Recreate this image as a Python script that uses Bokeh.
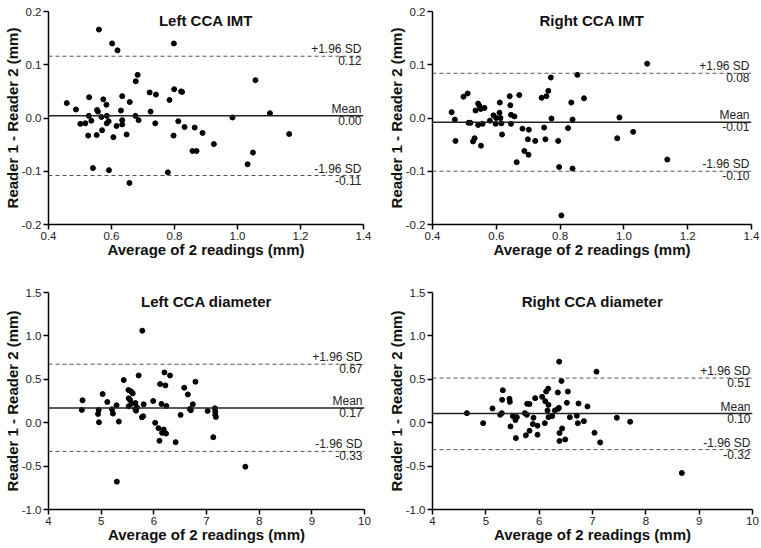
from bokeh.plotting import figure
from bokeh.layouts import row, column
from bokeh.models import Range1d, FixedTicker, NumeralTickFormatter, Span, Label
from bokeh.embed import file_html
from bokeh.resources import INLINE

FONT = "Liberation Sans"

# ---------------- data ----------------
titles = ["Left CCA IMT", "Right CCA IMT", "Left CCA diameter", "Right CCA diameter"]
x_label = "Average of 2 readings (mm)"
y_label = "Reader 1 - Reader 2 (mm)"

# Left CCA IMT
l_imt_avg = [0.560, 0.602, 0.619, 0.798, 0.683, 0.677, 1.057, 0.458, 0.487, 0.529,
             0.574, 0.584, 0.554, 0.557, 0.528, 0.568, 0.585, 0.501, 0.517, 0.536,
             0.591, 0.585, 0.526, 0.553, 0.570, 0.606, 0.616, 0.630, 0.634, 0.634,
             0.634, 0.648, 0.658, 0.676, 0.686, 0.721, 0.724, 0.741, 0.739, 0.784,
             0.799, 0.821, 0.824, 0.812, 0.797, 0.832, 0.864, 0.889, 0.857, 0.870,
             0.925, 0.984, 1.103, 1.164, 1.049, 1.032, 0.541, 0.592, 0.779, 0.657]
l_imt_diff = [0.166, 0.140, 0.127, 0.140, 0.081, 0.069, 0.071, 0.028, 0.016, 0.039,
              0.035, 0.025, 0.015, 0.012, 0.004, 0.002, 0.004, -0.011, -0.010, -0.005,
              -0.006, -0.010, -0.033, -0.032, -0.023, -0.036, -0.015, 0.014, 0.041, -0.004,
              -0.012, -0.031, 0.030, 0.004, -0.004, 0.048, 0.012, 0.044, -0.010, 0.034,
              0.054, 0.050, 0.049, -0.006, -0.033, -0.017, -0.018, -0.028, -0.062, -0.062,
              -0.049, 0.001, 0.009, -0.030, -0.065, -0.087, -0.094, -0.098, -0.102, -0.122]

# Right CCA IMT
r_imt_avg = [0.460, 0.470, 0.472, 0.497, 0.510, 0.513, 0.519, 0.527, 0.532, 0.535,
             0.543, 0.547, 0.551, 0.563, 0.543, 0.557, 0.552, 0.580, 0.591, 0.598,
             0.600, 0.610, 0.611, 0.613, 0.616, 0.618, 0.642, 0.644, 0.646, 0.646,
             0.657, 0.664, 0.672, 0.682, 0.688, 0.702, 0.699, 0.701, 0.722, 0.742,
             0.757, 0.763, 0.771, 0.773, 0.750, 0.754, 0.794, 0.797, 0.804, 0.825,
             0.835, 0.839, 0.839, 0.854, 0.875, 0.979, 0.986, 1.029, 1.073, 1.136]
r_imt_diff = [0.011, -0.003, -0.043, 0.040, 0.046, -0.009, -0.009, -0.044, -0.038, 0.014,
              0.027, 0.023, 0.017, 0.019, -0.013, -0.011, -0.052, -0.005, 0.005, -0.011,
              0.000, 0.010, 0.029, 0.000, -0.010, -0.031, 0.041, 0.024, 0.006, -0.011,
              0.003, -0.083, 0.043, -0.020, -0.062, -0.022, -0.040, -0.069, -0.043, 0.038,
              0.041, 0.051, 0.076, -0.001, -0.018, -0.040, -0.043, -0.092, -0.183, -0.019,
              0.029, -0.003, -0.095, 0.081, 0.037, -0.038, 0.001, -0.026, 0.102, -0.078]

# Left CCA diameter
l_dia_avg = [4.646, 4.633, 4.953, 4.940, 4.959, 5.028, 5.116, 5.204, 5.223, 5.292,
             5.336, 5.298, 5.429, 5.517, 5.524, 5.524, 5.549, 5.567, 5.580, 5.599,
             5.649, 5.649, 5.680, 5.712, 5.661, 5.781, 5.774, 5.799, 5.806, 5.988,
             6.025, 6.088, 6.107, 6.119, 6.144, 6.157, 6.188, 6.201, 6.219, 6.238,
             6.232, 6.307, 6.414, 6.508, 6.577, 6.646, 6.683, 6.702, 6.740, 6.790,
             7.022, 7.129, 7.160, 7.166, 7.166, 7.179, 7.737]
l_dia_diff = [0.258, 0.147, 0.147, 0.101, 0.005, 0.330, 0.239, 0.154, 0.105, 0.200,
              0.013, -0.679, 0.491, 0.376, 0.281, 0.189, 0.262, 0.361, 0.220, 0.338,
              0.227, 0.158, 0.177, 0.544, 0.139, 1.060, 0.063, 0.074, 0.212, 0.250,
              -0.002, -0.063, -0.209, 0.445, 0.216, -0.117, -0.079, 0.579, 0.430, 0.193,
              -0.125, 0.544, -0.224, 0.090, 0.403, 0.326, 0.158, 0.143, 0.212, 0.472,
              0.135, -0.167, 0.166, 0.128, 0.090, 0.067, -0.507]

# Right CCA diameter
r_dia_avg = [4.644, 4.950, 5.125, 5.269, 5.300, 5.319, 5.306, 5.444, 5.450, 5.463,
             5.506, 5.556, 5.581, 5.563, 5.731, 5.775, 5.819, 5.769, 5.750, 5.819,
             5.894, 5.881, 5.925, 5.969, 5.969, 6.056, 6.106, 6.113, 6.131, 6.169,
             6.156, 6.175, 6.175, 6.244, 6.294, 6.350, 6.356, 6.369, 6.375, 6.381,
             6.381, 6.419, 6.431, 6.488, 6.519, 6.538, 6.575, 6.706, 6.725, 6.738,
             6.838, 6.906, 7.038, 7.075, 7.144, 7.456, 7.706, 8.675]
r_dia_diff = [0.110, -0.005, 0.164, 0.091, 0.110, 0.374, 0.264, 0.275, 0.240, -0.043,
              0.076, 0.030, 0.064, -0.177, 0.110, 0.218, 0.214, 0.091, -0.146, -0.093,
              0.057, -0.016, 0.283, -0.139, -0.035, 0.298, -0.005, 0.248, 0.359, 0.393,
              0.141, 0.064, 0.206, 0.076, 0.141, 0.348, 0.160, 0.171, 0.703, -0.119,
              -0.211, 0.481, -0.066, -0.193, 0.229, 0.359, 0.064, 0.080, -0.005, 0.222,
              0.018, 0.187, -0.116, 0.588, -0.227, 0.057, 0.011, -0.579]

# bias (mean) and limits of agreement
means = [0.004, -0.008, 0.170, 0.105]
upper_loa = [0.116, 0.084, 0.674, 0.514]
lower_loa = [-0.108, -0.100, -0.331, -0.310]
mean_text = ["0.00", "-0.01", "0.17", "0.10"]
upper_text = ["0.12", "0.08", "0.67", "0.51"]
lower_text = ["-0.11", "-0.10", "-0.33", "-0.32"]

# axes
imt_x_ticks = [0.4, 0.6, 0.8, 1.0, 1.2, 1.4]
imt_y_ticks = [-0.2, -0.1, 0.0, 0.1, 0.2]
dia_x_ticks = [4, 5, 6, 7, 8, 9, 10]
dia_y_ticks = [-1.0, -0.5, 0.0, 0.5, 1.0, 1.5]

panels = [
    (l_imt_avg, l_imt_diff, imt_x_ticks, imt_y_ticks, "0.0"),
    (r_imt_avg, r_imt_diff, imt_x_ticks, imt_y_ticks, "0.0"),
    (l_dia_avg, l_dia_diff, dia_x_ticks, dia_y_ticks, "0"),
    (r_dia_avg, r_dia_diff, dia_x_ticks, dia_y_ticks, "0"),
]

# figure sizes and borders (left, right, top, bottom)
sizes = [(380, 270), (380, 270), (380, 277), (380, 277)]
borders = [(45, 17, 7, 46), (52, 9, 11, 42), (45, 16, 21, 38), (52, 8, 22, 38)]


def make_panel(i):
    xs, ys, xt, yt, xfmt = panels[i]
    w, h = sizes[i]
    bl, br, bt, bb = borders[i]
    p = figure(width=w, height=h, title=None,
               output_backend="svg", toolbar_location=None,
               x_range=Range1d(xt[0], xt[-1]), y_range=Range1d(yt[0], yt[-1]),
               min_border_left=bl, min_border_right=br,
               min_border_top=bt, min_border_bottom=bb)
    p.outline_line_color = None
    p.xgrid.visible = False
    p.ygrid.visible = False
    p.background_fill_color = "white"
    p.border_fill_color = "white"

    for ax, ticks, fmt, lab in ((p.xaxis[0], xt, xfmt, x_label), (p.yaxis[0], yt, "0.0", y_label)):
        ax.ticker = FixedTicker(ticks=ticks)
        ax.formatter = NumeralTickFormatter(format=fmt)
        ax.axis_label = lab
        ax.axis_label_text_font = FONT
        ax.axis_label_text_font_style = "bold"
        ax.axis_label_text_font_size = "15px"
        ax.axis_label_text_color = "#111111"
        ax.axis_label_text_line_height = 1.0
        ax.axis_label_standoff = -2
        ax.major_label_text_font = FONT
        ax.major_label_text_font_size = "11.5px"
        ax.major_label_text_color = "#222222"
        ax.major_label_text_line_height = 1.0
        ax.major_label_standoff = 2
        ax.axis_line_color = "black"
        ax.axis_line_width = 1.5
        ax.major_tick_line_color = "black"
        ax.major_tick_line_width = 1.5
        ax.major_tick_in = 0
        ax.major_tick_out = 5
        ax.minor_tick_line_color = None

    # reference lines
    p.add_layout(Span(location=upper_loa[i], dimension="width", line_color="#555555",
                      line_width=1, line_dash="4 3"))
    p.add_layout(Span(location=lower_loa[i], dimension="width", line_color="#555555",
                      line_width=1, line_dash="4 3"))
    p.add_layout(Span(location=means[i], dimension="width", line_color="#222222",
                      line_width=1.5))

    p.scatter(xs, ys, size=5, color="black")

    xe = xt[-1]
    def lab(y, text, base):
        p.add_layout(Label(x=xe, y=y, text=text, text_align="right", text_baseline=base,
                           x_offset=-2, text_font=FONT, text_font_size="12px",
                           text_color="#222222"))
    lab(upper_loa[i], "+1.96 SD", "bottom")
    lab(upper_loa[i], upper_text[i], "top")
    lab(means[i], "Mean", "bottom")
    lab(means[i], mean_text[i], "top")
    lab(lower_loa[i], "-1.96 SD", "bottom")
    lab(lower_loa[i], lower_text[i], "top")

    p.add_layout(Label(x=(xt[0] + xt[-1]) / 2, y=yt[-1], text=titles[i], text_align="center",
                       text_baseline="top", text_font=FONT,
                       text_font_size="15px", text_font_style="bold", text_color="#111111"))
    return p


p = column(row(make_panel(0), make_panel(1)),
           row(make_panel(2), make_panel(3)))

open("out.html", "w").write(file_html(p, INLINE))
